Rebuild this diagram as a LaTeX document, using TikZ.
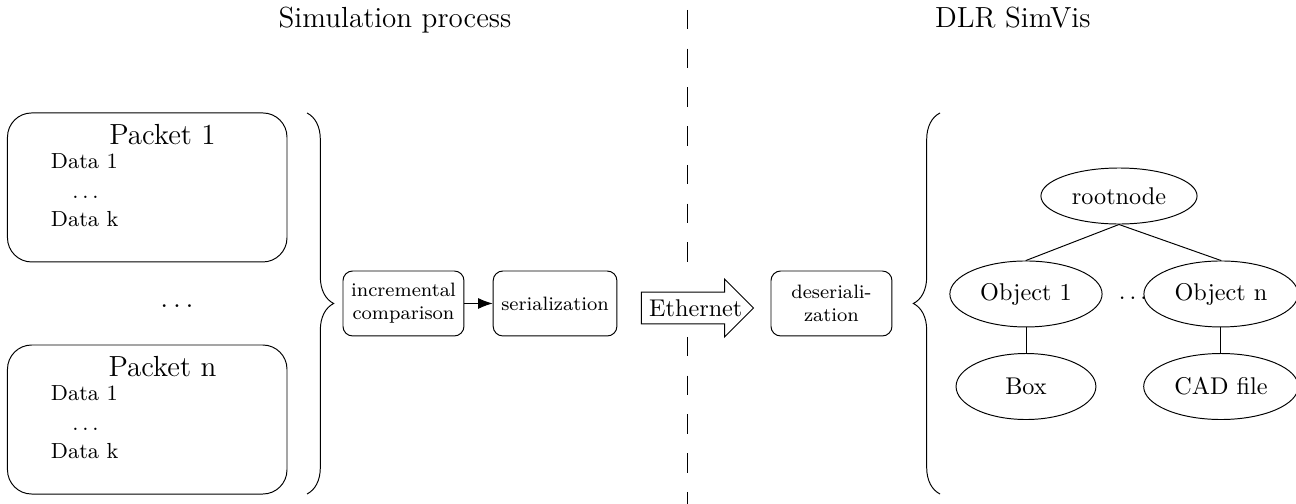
\documentclass[tikz,border=0pt]{standalone}
\usepackage{amsmath}
\usepackage{tikz}
\usetikzlibrary{positioning}
\usetikzlibrary{shapes.geometric}
\usetikzlibrary{shapes.arrows}
\usetikzlibrary{arrows.meta}
\usetikzlibrary{decorations.pathreplacing}

\begin{document}
\begin{tikzpicture}[scale=1,
    packetbox/.style={draw, rounded corners=10pt, minimum width=4.057cm, minimum height=2.163cm},
    packettext/.style={inner sep=0pt, font=\small},
    stepbox/.style={draw, rounded corners=4pt, align=center, font=\footnotesize, minimum width=1.756cm, minimum height=0.943cm},
    treenode/.style={draw, ellipse, minimum width=2.03cm, minimum height=0.958cm},
    bracket/.style={decorate, decoration={brace, amplitude=11pt}},
    sepline/.style={dash pattern=on 8pt off 8pt}]

    \useasboundingbox (0,0) rectangle (18.81,7.315);

    % headings of both sides
    \node[anchor=base, font=\large] (simhead) at (5.733,6.91) {Simulation process};
    \node[anchor=base, font=\large] (vishead) at (14.70,6.91) {DLR SimVis};

    % the packets
    \node[packetbox] (pkt1) at (2.137,4.594) {};
    \node[anchor=base, inner sep=0pt, font=\large] (pkt1name) at ([shift={(2.257,-0.464)}]pkt1.north west) {Packet 1};
    \node[packettext, anchor=base west] (pkt1first) at ([shift={(0.631,-0.813)}]pkt1.north west) {Data 1};
    \node[packettext, anchor=base] (pkt1dots) at ([shift={(1.139,-1.248)}]pkt1.north west) {$\ldots$};
    \node[packettext, anchor=base west] (pkt1last) at ([shift={(0.631,-1.655)}]pkt1.north west) {Data k};

    \node[anchor=base, font=\large] (pktdots) at (2.569,2.859) {$\ldots$};

    \node[packetbox] (pktn) at (2.137,1.226) {};
    \node[anchor=base, inner sep=0pt, font=\large] (pktnname) at ([shift={(2.257,-0.464)}]pktn.north west) {Packet n};
    \node[packettext, anchor=base west] (pktnfirst) at ([shift={(0.631,-0.813)}]pktn.north west) {Data 1};
    \node[packettext, anchor=base] (pktndots) at ([shift={(1.139,-1.248)}]pktn.north west) {$\ldots$};
    \node[packettext, anchor=base west] (pktnlast) at ([shift={(0.631,-1.655)}]pktn.north west) {Data k};

    % braces round the packets and the scene graph
    \coordinate (lbracetop) at (4.456,5.675);
    \coordinate (lbracebot) at (4.456,0.145);
    \coordinate (rbracetop) at (13.643,5.675);
    \coordinate (rbracebot) at (13.643,0.145);
    \path[draw, bracket] (lbracetop) -- (lbracebot);
    \path[draw, bracket] (rbracebot) -- (rbracetop);

    % processing steps
    \node[stepbox] (incr) at (5.856,2.910) {incremental\\comparison};
    \node[stepbox, right=0.41cm of incr] (serial) {serialization};
    \node[stepbox] (deserial) at (12.068,2.910) {deseriali-\\zation};
    \path[draw, -{Latex[length=6pt,width=4.5pt]}] (incr) -- (serial);

    % network link
    \node[single arrow, draw, fill=white, anchor=tail, inner sep=2.8pt, single arrow head extend=5.4pt, minimum height=1.626cm] (ether) at (9.303,2.845) {\makebox[33.4pt][l]{Ethernet}};

    % separation of both sides
    \coordinate (septop) at (9.971,7.170);
    \coordinate (sepup) at (9.971,3.251);
    \coordinate (seplow) at (9.971,2.424);
    \coordinate (sepbot) at (9.971,0);
    \path[draw, sepline] (septop) -- (sepup);
    \path[draw, sepline] (seplow) -- (sepbot);

    % scene graph
    \node[treenode, minimum height=0.813cm] (root) at (16.241,4.470) {rootnode};
    \node[treenode] (obj1) at (14.891,3.048) {Object 1};
    \node[treenode] (objn) at (17.721,3.048) {Object n};
    \node[treenode] (box) at (14.891,1.705) {Box};
    \node[treenode] (cad) at (17.721,1.705) {CAD file};
    \node[anchor=base] (objdots) at (16.444,2.961) {$\ldots$};

    \path[draw] (root.south) -- (obj1.north);
    \path[draw] (root.south) -- (objn.north);
    \path[draw] (obj1) -- (box);
    \path[draw] (objn) -- (cad);

\end{tikzpicture}
\end{document}
